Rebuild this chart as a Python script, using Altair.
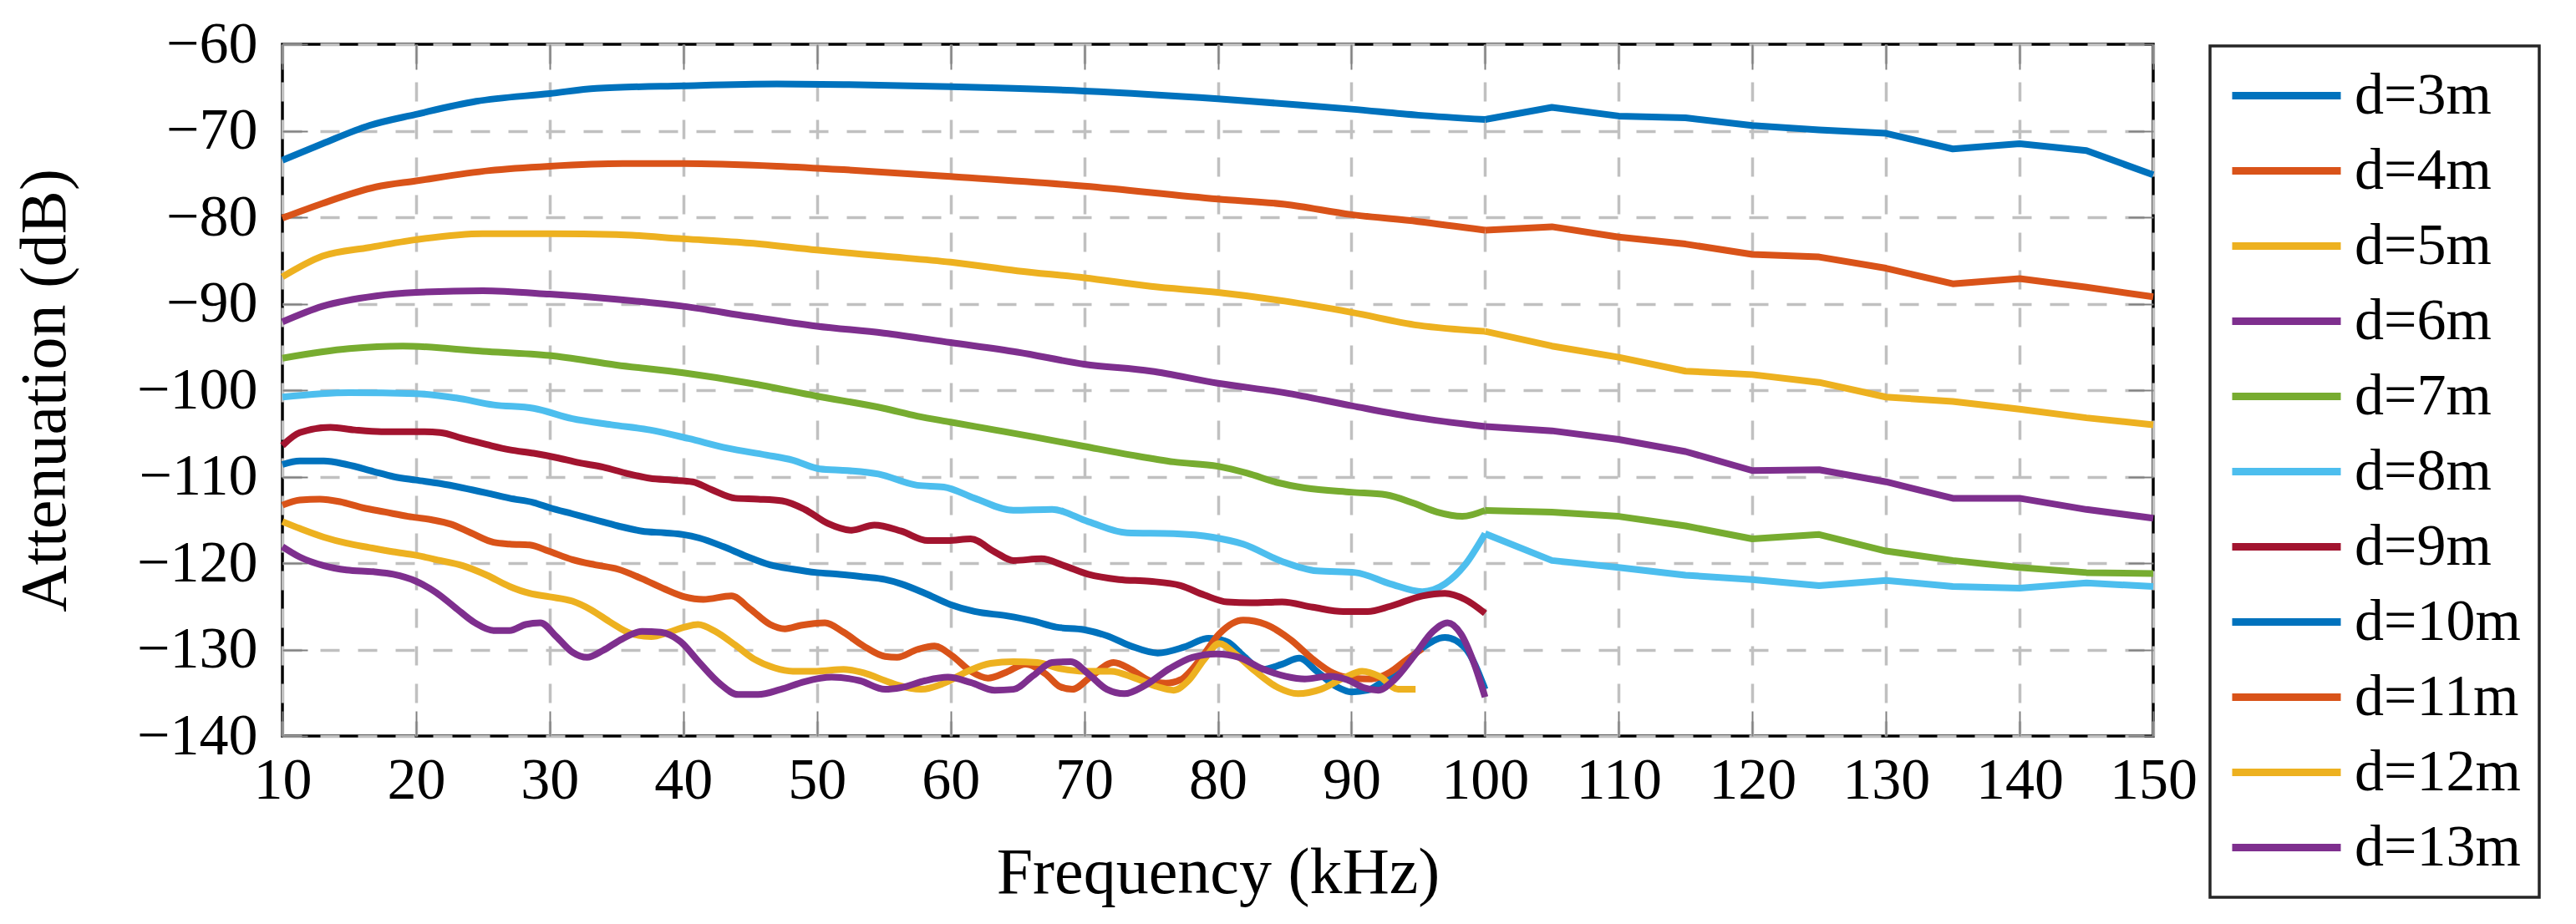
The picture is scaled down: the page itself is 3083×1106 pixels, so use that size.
import altair as alt
import pandas as pd

SERIES = ["d=3m", "d=4m", "d=5m", "d=6m", "d=7m", "d=8m", "d=9m",
          "d=10m", "d=11m", "d=12m", "d=13m"]
COLORS = ["#0072BD", "#D95319", "#EDB120", "#7E2F8E", "#77AC30", "#4DBEEE",
          "#A2142F", "#0072BD", "#D95319", "#EDB120", "#7E2F8E"]
X_TICKS = [10, 20, 30, 40, 50, 60, 70, 80, 90, 100, 110, 120, 130, 140, 150]
Y_TICKS = [-140, -130, -120, -110, -100, -90, -80, -70, -60]

F_D3 = [10, 13, 16.5, 20, 24.5, 30, 33.5, 40, 47, 52, 60, 70, 80, 86, 90, 95, 100,
        105, 110, 115, 120, 125, 130, 135, 140, 145, 150]
V_D3 = [-73.4, -71.5, -69.4, -68.1, -66.6, -65.7, -65.1, -64.8, -64.6, -64.65, -64.9,
        -65.4, -66.3, -67.0, -67.5, -68.2, -68.7, -67.3, -68.3, -68.5, -69.4, -69.9,
        -70.3, -72.1, -71.5, -72.3, -75.1]

F_D4 = [10, 13, 17, 20, 25.5, 30, 35.5, 40, 47, 52, 60, 70, 80, 85, 90, 95, 100,
        105, 110, 115, 120, 125, 130, 135, 140, 145, 150]
V_D4 = [-80.1, -78.4, -76.5, -75.8, -74.6, -74.1, -73.8, -73.8, -74.1, -74.5, -75.3,
        -76.4, -77.9, -78.5, -79.7, -80.5, -81.5, -81.1, -82.3, -83.1, -84.3, -84.6,
        -85.9, -87.7, -87.1, -88.1, -89.2]

F_D5 = [10, 13, 16.5, 20, 25, 30, 35, 40, 45, 50, 55, 60, 65, 70, 75, 80, 85, 90, 95,
        100, 105, 110, 115, 120, 125, 130, 135, 140, 145, 150]
V_D5 = [-86.9, -84.5, -83.5, -82.6, -81.9, -81.9, -82.0, -82.5, -83.0, -83.8, -84.5,
        -85.2, -86.2, -87.0, -88.0, -88.7, -89.7, -91.0, -92.5, -93.2, -94.9, -96.2,
        -97.8, -98.2, -99.1, -100.8, -101.3, -102.2, -103.2, -104.0]

F_D6 = [10, 13, 17, 20, 25, 30, 35, 40, 45, 50, 55, 60, 65, 70, 75, 80, 85, 90, 95,
        100, 105, 110, 115, 120, 125, 130, 135, 140, 145, 150]
V_D6 = [-92.1, -90.3, -89.1, -88.7, -88.5, -88.9, -89.5, -90.3, -91.5, -92.6, -93.4,
        -94.5, -95.6, -97.0, -97.8, -99.2, -100.3, -101.8, -103.2, -104.2, -104.7,
        -105.7, -107.1, -109.3, -109.2, -110.6, -112.5, -112.5, -113.8, -114.8]

F_D7 = [10, 15, 19, 25, 30, 35, 40, 45, 50, 55, 57.5, 60, 63.3, 66.2, 70, 73.5, 76.7,
        80, 82.2, 84.5, 86.5, 90, 92.6, 94.7, 96.4, 98.3, 100, 105, 110, 115, 120, 125,
        130, 135, 140, 145, 150]
V_D7 = [-96.3, -95.2, -94.9, -95.5, -96.0, -97.1, -98.0, -99.2, -100.7, -102.1,
        -103.0, -103.7, -104.6, -105.4, -106.5, -107.5, -108.3, -108.8, -109.6, -110.7,
        -111.3, -111.8, -112.1, -113.1, -114.1, -114.6, -113.9, -114.1, -114.6, -115.7,
        -117.2, -116.7, -118.6, -119.7, -120.5, -121.1, -121.2]

F_D8 = [10, 15, 20, 23, 25.8, 28.8, 31.7, 34.6, 37.5, 40.4, 43.3, 46.2, 48.2, 50.2,
        52.3, 54.6, 57.5, 59.5, 61.8, 64.7, 67.6, 70.3, 73.2, 76.7, 79.6, 81.9, 84.8,
        87.4, 90.3, 92.9, 95.3, 97, 98.5, 100, 105, 110, 115, 120, 125, 130, 135, 140,
        145, 150]
V_D8 = [-100.8, -100.3, -100.4, -100.9, -101.7, -102.1, -103.3, -104.0, -104.6,
        -105.6, -106.7, -107.5, -108.1, -109.1, -109.3, -109.7, -111.0, -111.2, -112.5,
        -113.9, -113.8, -115.2, -116.5, -116.6, -117.0, -117.8, -119.8, -120.9, -121.1,
        -122.4, -123.3, -122.4, -120.2, -116.6, -119.7, -120.5, -121.4, -121.9, -122.6,
        -122.0, -122.7, -122.9, -122.3, -122.7]

F_D9 = [10, 11.3, 13.6, 15.4, 17.4, 20, 21.8, 23.5, 25.3, 27, 28.8, 30.5, 32.2, 34,
        35.7, 37.5, 39.2, 40.7, 42.1, 43.9, 45.6, 47.4, 49.1, 50.8, 52.6, 54.3, 56.3,
        58.3, 59.8, 61.5, 63.3, 64.7, 66.8, 68.5, 70.3, 72.6, 74.9, 77.2, 79, 80.7,
        82.5, 84.8, 87.1, 89.4, 91.2, 92.9, 95.3, 97, 98.5, 100]
V_D9 = [-106.4, -104.9, -104.3, -104.6, -104.8, -104.8, -104.9, -105.6, -106.3,
        -106.9, -107.3, -107.8, -108.4, -108.9, -109.6, -110.2, -110.4, -110.6, -111.5,
        -112.5, -112.6, -112.8, -113.8, -115.4, -116.2, -115.6, -116.3, -117.4, -117.4,
        -117.2, -118.7, -119.7, -119.5, -120.3, -121.3, -121.9, -122.1, -122.6, -123.7,
        -124.5, -124.6, -124.5, -125.1, -125.6, -125.6, -125.0, -123.8, -123.5, -124.2,
        -125.8]

F_D10 = [10, 11.3, 13.1, 14.8, 16.8, 18.3, 20, 21.8, 23.5, 25.3, 27, 28.8, 30, 31.7,
         33.4, 35.1, 36.9, 38.6, 40, 41.2, 43, 44.7, 46.5, 48.2, 50, 51.7, 53.5, 55.1,
         56.3, 58.1, 60, 61.8, 64.2, 66.2, 67.9, 70, 71.7, 73.5, 75.5, 77.5, 79.3,
         80.7, 81.9, 83.3, 84.8, 86.1, 87.4, 88.9, 90, 91.2, 92.4, 93.8, 95.3, 97,
         98.5, 100]
V_D10 = [-108.6, -108.2, -108.2, -108.6, -109.4, -110.0, -110.4, -110.8, -111.3,
         -111.9, -112.5, -113.0, -113.6, -114.3, -115.0, -115.7, -116.3, -116.5,
         -116.7, -117.1, -118.1, -119.2, -120.2, -120.7, -121.1, -121.3, -121.6,
         -121.9, -122.4, -123.5, -124.8, -125.6, -126.1, -126.7, -127.4, -127.7,
         -128.4, -129.6, -130.4, -129.7, -128.7, -129.1, -130.7, -132.3, -131.7,
         -131.0, -132.5, -134.3, -134.9, -134.7, -133.6, -131.9, -129.8, -128.6,
         -129.8, -134.6]

F_D11 = [10, 11.3, 12.8, 14.3, 16, 17.7, 19.4, 21.2, 22.6, 24.1, 25.8, 27, 28.5, 29.9,
         31.7, 33.4, 35.1, 36.9, 38.6, 40.1, 41.5, 43.6, 45, 46.5, 47.6, 48.8, 50.6,
         52, 53.5, 55.1, 56, 57.5, 58.8, 60.1, 61.5, 62.8, 64.2, 65.6, 67.1, 68.2,
         69.1, 70.6, 72.2, 73.5, 74.9, 76.1, 77.2, 78.7, 80.1, 81.9, 83.6, 85.4, 87.1,
         88.6, 90, 91.5, 92.9, 94.1, 95.3]
V_D11 = [-113.3, -112.7, -112.6, -112.9, -113.6, -114.1, -114.6, -115.0, -115.5,
         -116.5, -117.6, -117.8, -117.9, -118.6, -119.6, -120.2, -120.7, -121.8,
         -123.0, -123.9, -124.2, -123.8, -125.3, -127.1, -127.6, -127.2, -126.9,
         -128.0, -129.6, -130.8, -130.9, -130.0, -129.6, -130.7, -132.5, -133.3,
         -132.6, -131.7, -132.8, -134.3, -134.6, -133.0, -131.5, -132.3, -133.6,
         -133.9, -133.5, -131.1, -128.2, -126.6, -127.1, -128.8, -131.1, -132.7,
         -133.3, -133.4, -132.6, -131.2, -129.9]

F_D12 = [10, 11.3, 13.1, 14.8, 16.5, 18.3, 20, 21.8, 23.5, 25.3, 27, 28.5, 30, 31.7,
         33.1, 34.6, 36, 37.6, 38.9, 40.1, 41.1, 42.4, 43.9, 45.3, 46.8, 48.2, 50, 52,
         53.5, 55.1, 56, 57.8, 59.5, 61.3, 63, 64.7, 66.5, 68.2, 70, 72, 73.8, 75.5,
         76.7, 77.8, 79, 80.1, 81.3, 82.8, 84.5, 86, 87.7, 89.4, 90.8, 92.1, 93.5,
         94.8]
V_D12 = [-115.2, -116.0, -117.0, -117.7, -118.2, -118.7, -119.1, -119.7, -120.3,
         -121.4, -122.7, -123.5, -123.9, -124.4, -125.4, -126.9, -128.1, -128.5,
         -128.0, -127.4, -127.1, -127.9, -129.5, -131.1, -132.1, -132.5, -132.5,
         -132.3, -132.7, -133.6, -134.1, -134.6, -133.9, -132.5, -131.6, -131.4,
         -131.5, -132.2, -132.5, -132.5, -133.3, -134.3, -134.7, -133.6, -131.1,
         -129.3, -130.5, -132.5, -134.4, -135.1, -134.6, -133.3, -132.5, -133.1,
         -134.6, -134.6]

F_D13 = [10, 11.3, 13.1, 14.8, 16.8, 18.3, 20, 21.5, 22.9, 24.4, 25.8, 27, 28.2, 29.3,
         30.5, 31.7, 32.8, 34, 35.4, 36.9, 38.3, 39.8, 41.2, 42.7, 44.1, 45.6, 47.3,
         49.1, 51.1, 53.2, 55.1, 56.3, 58.1, 59.8, 61.5, 63.3, 64.7, 66.2, 67.6, 69,
         70.3, 71.7, 73, 74.6, 76.4, 78.1, 79.9, 81.6, 83.3, 85.1, 86.5, 88.3, 89.7,
         90.9, 92, 93.2, 94.7, 96.1, 97.2, 98.2, 99.2, 100]
V_D13 = [-118.1, -119.3, -120.3, -120.8, -121.0, -121.3, -122.1, -123.4, -125.1,
         -126.9, -127.8, -127.8, -127.1, -126.9, -128.5, -130.3, -130.9, -130.1,
         -128.8, -127.9, -128.0, -129.1, -131.5, -133.9, -135.2, -135.2, -134.6,
         -133.7, -133.2, -133.6, -134.6, -134.4, -133.6, -133.2, -133.8, -134.7,
         -134.6, -133.0, -131.5, -131.4, -132.8, -134.6, -135.1, -134.1, -132.2,
         -130.9, -130.5, -130.9, -132.2, -133.1, -133.4, -133.1, -133.5, -134.4,
         -134.7, -133.5, -130.7, -127.9, -126.9, -128.2, -131.7, -135.5]

FREQS = [F_D3, F_D4, F_D5, F_D6, F_D7, F_D8, F_D9, F_D10, F_D11, F_D12, F_D13]
VALUES = [V_D3, V_D4, V_D5, V_D6, V_D7, V_D8, V_D9, V_D10, V_D11, V_D12, V_D13]

low_rows, high_rows = [], []
for name, fs, vs in zip(SERIES, FREQS, VALUES):
    for f, v in zip(fs, vs):
        if f <= 100:
            low_rows.append({"series": name, "f": f, "v": v})
        if f >= 100:
            high_rows.append({"series": name, "f": f, "v": v})
low_df = pd.DataFrame(low_rows)
high_df = pd.DataFrame(high_rows)
frame_df = pd.DataFrame({"f": [X_TICKS[0], X_TICKS[-1]], "v": [Y_TICKS[0], Y_TICKS[-1]]})

PLOT_W = 2239
PLOT_H = 828
FONT = "Liberation Serif"

xscale = alt.Scale(domain=[10, 150], nice=False, zero=False)
yscale = alt.Scale(domain=[-140, -60], nice=False, zero=False)

color = alt.Color(
    "series:N",
    scale=alt.Scale(domain=SERIES, range=COLORS),
    sort=SERIES,
    legend=alt.Legend(
        title=None, orient="none", legendX=2307, legendY=2,
        symbolType="stroke", symbolSize=16900, symbolStrokeWidth=9,
        labelFont=FONT, labelFontSize=70, labelColor="black", labelLimit=600,
        labelOffset=12, clipHeight=75, rowPadding=15, padding=22,
        strokeColor="#262626", fillColor="white",
        labelExpr="datum.label + '\u00a0'",
    ),
)

x_main = alt.X("f:Q", scale=xscale, axis=alt.Axis(
    orient="bottom", values=X_TICKS, grid=True, ticks=False, tickSize=0, domain=False,
    labelFlush=False, labelOverlap=False, labelPadding=19,
    title="Frequency (kHz)", titleX=PLOT_W / 2, titleY=187,
    titleBaseline="alphabetic", titleAlign="center"))
y_main = alt.Y("v:Q", scale=yscale, axis=alt.Axis(
    orient="left", values=Y_TICKS, grid=True, ticks=False, tickSize=0, domain=False,
    labelFlush=False, labelOverlap=False, labelPadding=30,
    title="Attenuation (dB)", titleX=-261, titleY=PLOT_H / 2, titleAngle=270,
    titleBaseline="alphabetic", titleAlign="center"))

low = alt.Chart(low_df).mark_line(
    interpolate="monotone", strokeWidth=8, strokeJoin="round"
).encode(x=x_main, y=y_main, color=color, order="f:Q")

high = alt.Chart(high_df).mark_line(
    strokeWidth=8, strokeJoin="round"
).encode(x=alt.X("f:Q", scale=xscale), y=alt.Y("v:Q", scale=yscale),
         color=color, order="f:Q")

tick_common = dict(labels=False, grid=False, domain=False, ticks=True, tickSize=30,
                   tickColor="#808080", tickWidth=2, title=None)

ticks_a = alt.Chart(frame_df).mark_point(opacity=0).encode(
    x=alt.X("f:Q", scale=xscale, axis=alt.Axis(orient="top", offset=-PLOT_H,
                                               values=X_TICKS, **tick_common)),
    y=alt.Y("v:Q", scale=yscale, axis=alt.Axis(orient="right", offset=-PLOT_W,
                                               values=Y_TICKS, **tick_common)),
)
ticks_b = alt.Chart(frame_df).mark_point(opacity=0).encode(
    x=alt.X("f:Q", scale=xscale, axis=alt.Axis(orient="bottom", offset=-PLOT_H,
                                               values=X_TICKS, **tick_common)),
    y=alt.Y("v:Q", scale=yscale, axis=alt.Axis(orient="left", offset=-PLOT_W,
                                               values=Y_TICKS, **tick_common)),
)

main = alt.layer(low, high).resolve_axis(x="shared", y="shared")

chart = alt.layer(main, ticks_a, ticks_b).resolve_axis(
    x="independent", y="independent"
).properties(
    width=PLOT_W, height=PLOT_H,
    autosize=alt.AutoSizeParams(type="none"),
    padding={"left": 330, "top": 45, "right": 495, "bottom": 212},
    background="white",
).configure_view(
    stroke="black", strokeWidth=3.5
).configure_axis(
    labelFont=FONT, labelFontSize=70, labelColor="black",
    titleFont=FONT, titleFontSize=78, titleColor="black", titleFontWeight="normal",
    gridColor="#c0c0c0", gridDash=[23, 22], gridWidth=3.5, gridOpacity=1,
).configure_legend(
    strokeWidth=3.5
)

chart.save("out.html", embed_options={"renderer": "svg", "actions": False})
